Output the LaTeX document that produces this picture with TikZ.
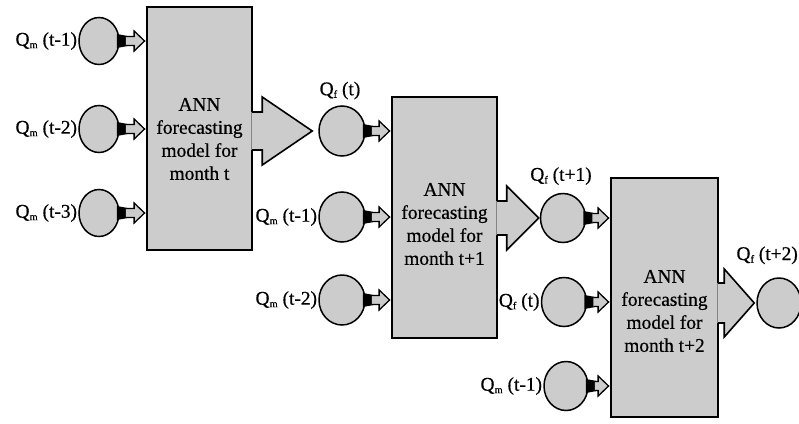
\documentclass[tikz,border=0pt]{standalone}
\usepackage{fontspec}
\setmainfont[FakeBold=0.6]{Liberation Serif}
\usetikzlibrary{shapes.geometric,calc}
\definecolor{fillgray}{RGB}{204,204,204}
\newcommand\qs[1]{Q\raisebox{-2.5pt}{\fontsize{10.5}{10.5}\selectfont #1}}
\newcommand\bigarrow[6]{% box, circle, gap, shaft half, head length, head half
  \fill[fillgray] let \p1=(#1.east), \p2=(#2.west) in
    (\x1-1.5pt,\y2+#4pt) -- (\x2-#3pt-#5pt,\y2+#4pt) -- (\x2-#3pt-#5pt,\y2+#6pt) -- (\x2-#3pt,\y2)
    -- (\x2-#3pt-#5pt,\y2-#6pt) -- (\x2-#3pt-#5pt,\y2-#4pt) -- (\x1-1.5pt,\y2-#4pt) -- cycle;
  \draw[arrline] let \p1=(#1.east), \p2=(#2.west) in
    (\x1-0.9pt,\y2+#4pt) -- (\x2-#3pt-#5pt,\y2+#4pt) -- (\x2-#3pt-#5pt,\y2+#6pt) -- (\x2-#3pt,\y2)
    -- (\x2-#3pt-#5pt,\y2-#6pt) -- (\x2-#3pt-#5pt,\y2-#4pt) -- (\x1-0.9pt,\y2-#4pt);
}
\newcommand\smallarrow[2]{% circle, box
  \fill[black] let \p1=(#1.east) in
    (\x1-3pt,\y1+7pt) -- (\x1+7pt,\y1+5.2pt) -- (\x1+7pt,\y1-5.2pt) -- (\x1-3pt,\y1-7pt) -- cycle;
  \filldraw[fill=fillgray, line width=1.3pt, line join=miter] let \p1=(#1.east), \p2=(#2.west) in
    (\x1+6pt,\y1+4.5pt) -- (\x2-12pt,\y1+4.5pt) -- (\x2-12pt,\y1+10pt) -- (\x2-1.5pt,\y1)
    -- (\x2-12pt,\y1-10pt) -- (\x2-12pt,\y1-4.5pt) -- (\x1+6pt,\y1-4.5pt);
}
\begin{document}
\begin{tikzpicture}[x=1pt,y=-1pt,
  box/.style={draw, line width=1.8pt, fill=fillgray, inner sep=0, rectangle},
  circ/.style={draw, line width=1.5pt, fill=fillgray, ellipse, inner sep=0},
  lbl/.style={font=\fontsize{19.4}{23}\selectfont, inner sep=1pt},
  boxtext/.style={font=\fontsize{19.4}{23}\selectfont, align=center, inner sep=0},
  arrline/.style={line width=1.6pt, line join=miter},
]
\useasboundingbox (0,0) rectangle (799,423);

% boxes
\node[box, minimum width=105pt, minimum height=243pt] (b1) at (199.5,128.5) {};
\node[box, minimum width=105pt, minimum height=241pt] (b2) at (444.5,217.5) {};
\node[box, minimum width=107pt, minimum height=239pt] (b3) at (664.5,297.5) {};
\node[boxtext] (t1) at (199.5,139) {ANN\\forecasting\\model for\\month t};
\node[boxtext] (t2) at (444.5,224) {ANN\\forecasting\\model for\\month t+1};
\node[boxtext] (t3) at (664.5,311) {ANN\\forecasting\\model for\\month t+2};

% circles
\node[circ, minimum width=40pt, minimum height=47pt] (c1a) at (99,41) {};
\node[circ, minimum width=40pt, minimum height=47pt] (c1b) at (99,129) {};
\node[circ, minimum width=40pt, minimum height=47pt] (c1c) at (99,213) {};
\node[circ, minimum width=46pt, minimum height=50pt] (c2a) at (342,131) {};
\node[circ, minimum width=46pt, minimum height=50pt] (c2b) at (342,217) {};
\node[circ, minimum width=46pt, minimum height=50pt] (c2c) at (342,300) {};
\node[circ, minimum width=45pt, minimum height=49pt] (c3a) at (563,218) {};
\node[circ, minimum width=45pt, minimum height=49pt] (c3b) at (564,302) {};
\node[circ, minimum width=44pt, minimum height=49pt] (c3c) at (566,386) {};
\node[circ, minimum width=44pt, minimum height=50pt] (c4) at (779,303) {};

% big arrows
\bigarrow{b1}{c2a}{6}{19}{50}{34}
\bigarrow{b2}{c3a}{1}{17}{32}{32}
\bigarrow{b3}{c4}{2}{20}{30}{34}

% small arrows
\smallarrow{c1a}{b1}
\smallarrow{c1b}{b1}
\smallarrow{c1c}{b1}
\smallarrow{c2a}{b2}
\smallarrow{c2b}{b2}
\smallarrow{c2c}{b2}
\smallarrow{c3a}{b3}
\smallarrow{c3b}{b3}
\smallarrow{c3c}{b3}

% labels
\node[lbl, anchor=east] (l1a) at (c1a.west) {\qs{m} (t-1)};
\node[lbl, anchor=east] (l1b) at (c1b.west) {\qs{m} (t-2)};
\node[lbl, anchor=east] (l1c) at (c1c.west) {\qs{m} (t-3)};
\node[lbl, anchor=base] (l2a) at ($(c2a.north)+(-2,-10)$) {\qs{f} (t)};
\node[lbl, anchor=east] (l2b) at (c2b.west) {\qs{m} (t-1)};
\node[lbl, anchor=east] (l2c) at (c2c.west) {\qs{m} (t-2)};
\node[lbl, anchor=base] (l3a) at ($(c3a.north)+(-2,-12)$) {\qs{f} (t+1)};
\node[lbl, anchor=east] (l3b) at (c3b.west) {\qs{f} (t)};
\node[lbl, anchor=east] (l3c) at (c3c.west) {\qs{m} (t-1)};
\node[lbl, anchor=base east, inner sep=0] (l4) at (798,260) {\qs{f} (t+2)};
\end{tikzpicture}
\end{document}
